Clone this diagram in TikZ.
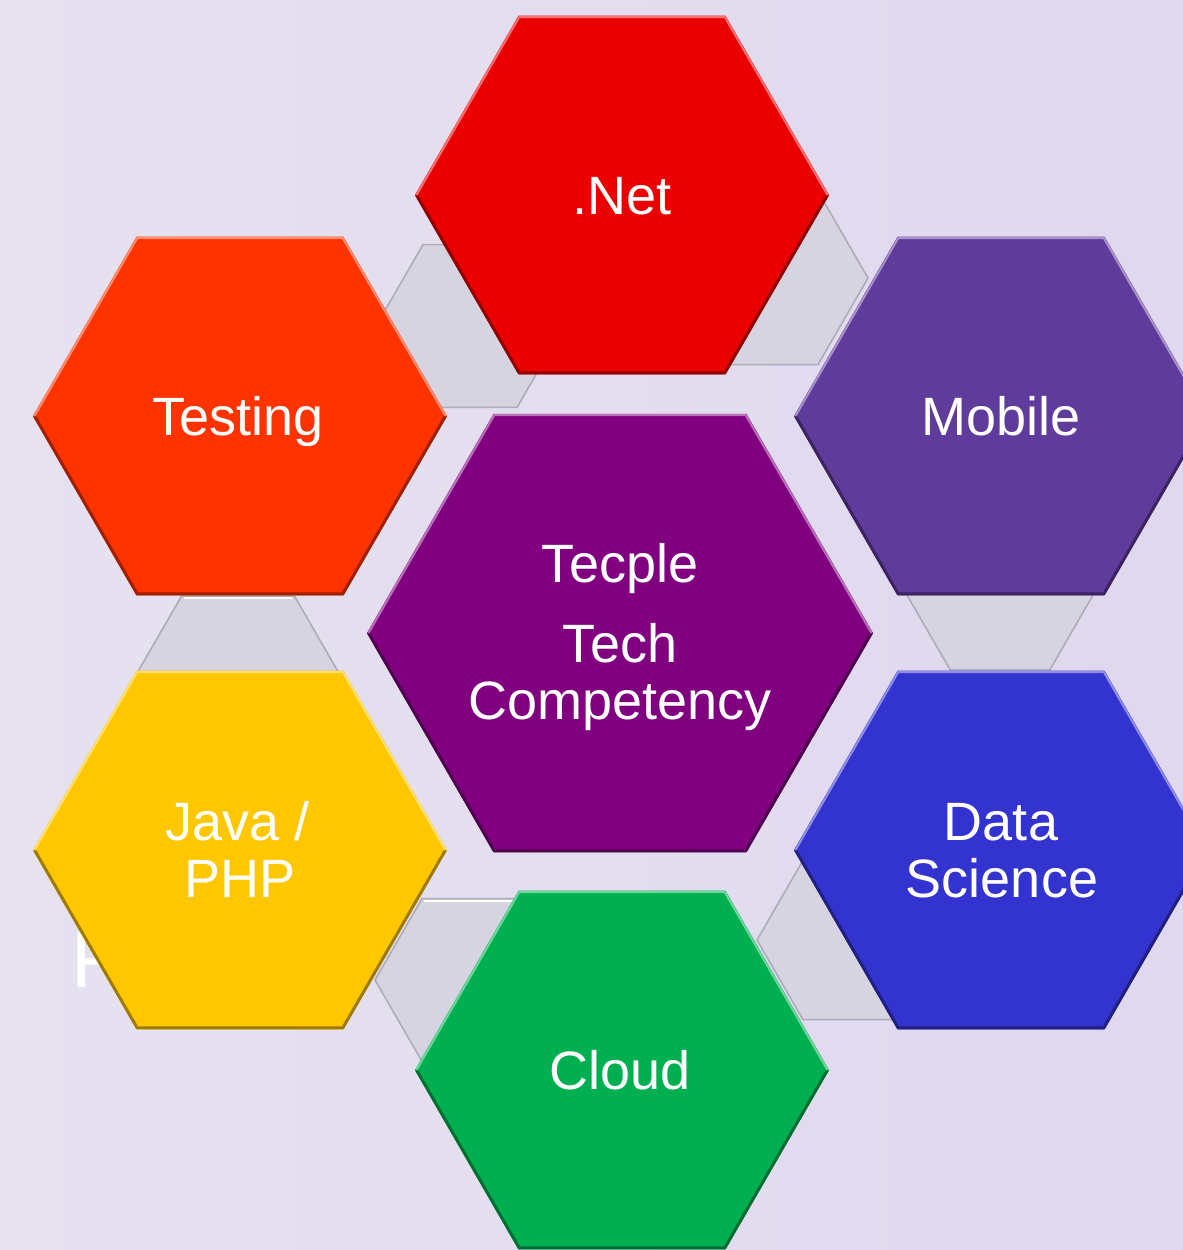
\documentclass[tikz,border=0pt]{standalone}
\usepackage{fontspec}
\setmainfont{Liberation Sans}
\definecolor{bgL}{HTML}{E6E2F0}
\definecolor{bgR}{HTML}{E0D8EE}
\definecolor{grayfill}{HTML}{D6D4E0}
\definecolor{grayedge}{HTML}{AEACB8}
\definecolor{cNet}{HTML}{EA0000}
\definecolor{cTest}{HTML}{FF3300}
\definecolor{cMob}{HTML}{5F3B9C}
\definecolor{cCen}{HTML}{800080}
\definecolor{cJava}{HTML}{FFC700}
\definecolor{cData}{HTML}{3333CF}
\definecolor{cCloud}{HTML}{00B050}
% gray connector hexagon: center, radius
\newcommand{\grayhexat}[2]{%
  \filldraw[fill=grayfill, draw=grayedge, line width=1.6pt, line join=round, shift={(#1)}]
    (0:#2) -- (60:#2) -- (120:#2) -- (180:#2) -- (240:#2) -- (300:#2) -- cycle;}
% bevelled coloured hexagon: center, radius, colour
\newcommand{\bevelhexat}[3]{%
  \pgfmathsetmacro\hexrr{#2-1.5}%
  \fill[#3, shift={(#1)}]
    (0:#2) -- (60:#2) -- (120:#2) -- (180:#2) -- (240:#2) -- (300:#2) -- cycle;
  \draw[#3!62!black, line width=3pt, line join=round, shift={(#1)}]
    (0:\hexrr) -- (60:\hexrr) -- (120:\hexrr) -- (180:\hexrr);
  \draw[#3!55!white, line width=2pt, line join=round, shift={(#1)}]
    (180:\hexrr) -- (240:\hexrr) -- (300:\hexrr) -- (0:\hexrr);
  \fill[#3, shift={(#1)}]
    (0:#2-5) -- (60:#2-5) -- (120:#2-5) -- (180:#2-5) -- (240:#2-5) -- (300:#2-5) -- cycle;}
\begin{document}
\begin{tikzpicture}[x=1pt,y=-1pt,
  lbl/.style={text=white, font=\fontsize{54}{60}\selectfont, inner sep=0pt, anchor=base}]
\useasboundingbox (0,0) rectangle (1183,1250);
\shade[left color=bgL, right color=bgR] (0,0) rectangle (1183,1250);

% gray connector pieces (behind)
\grayhexat{470,326}{94}
\grayhexat{768,278}{100}
\grayhexat{1000,583}{100}
\grayhexat{849,940}{92}
\grayhexat{469,980}{94}
\grayhexat{238,694}{113}
\draw[white, line width=2.5pt] (424,901) -- (514,901);
\draw[white, line width=2.5pt] (184,598) -- (292,598);

% stray white letter partly hidden
\node[text=white, font=\fontsize{80}{90}\selectfont, inner sep=0pt, anchor=base west] (tstray) at (71,987) {F};

% coloured hexagons
\bevelhexat{622,195}{207}{cNet}
\bevelhexat{240,416}{207}{cTest}
\bevelhexat{1001,416}{207}{cMob}
\bevelhexat{620,633}{253}{cCen}
\bevelhexat{240,850}{207}{cJava}
\bevelhexat{1001,850}{207}{cData}
\bevelhexat{622,1070}{207}{cCloud}

% labels
\node[lbl] (tnet) at (622,214) {.Net};
\node[lbl] (ttest) at (238,435) {Testing};
\node[lbl] (tmob) at (1001,435) {Mobile};
\node[lbl] (tc1) at (620,582) {Tecple};
\node[lbl] (tc2) at (620,662) {Tech};
\node[lbl] (tc3) at (620,719) {Competency};
\node[lbl] (tjava1) at (238,840) {Java /};
\node[lbl] (tjava2) at (240,897) {PHP};
\node[lbl] (tdata1) at (1001,840) {Data};
\node[lbl] (tdata2) at (1002,897) {Science};
\node[lbl] (tcloud) at (620,1089) {Cloud};
\end{tikzpicture}
\end{document}
